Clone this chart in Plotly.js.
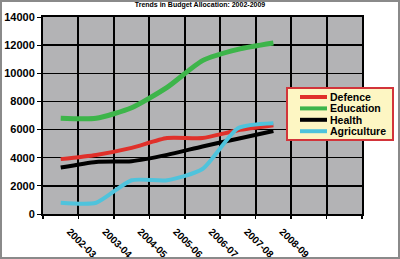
<!DOCTYPE html>
<html>
<head>
<meta charset="utf-8">
<script src="https://cdn.plot.ly/plotly-3.0.1.min.js"></script>
<style>
html,body{margin:0;padding:0;background:#fff;}
#wrap{position:relative;width:400px;height:259px;}
#chart{width:400px;height:259px;}
#frame{position:absolute;left:0;top:0;width:400px;height:259px;box-sizing:border-box;border:2px solid #8a8a8a;pointer-events:none;z-index:10;}
</style>
</head>
<body>
<div id="wrap"><div id="chart"></div><div id="frame"></div></div>
<script>
const years = ["2002-03","2003-04","2004-05","2005-06","2006-07","2007-08","2008-09"];
const defence = [3900, 4200, 4700, 5400, 5400, 5950, 6300];
const education = [6800, 6800, 7550, 9000, 10900, 11700, 12150];
const health = [3300, 3700, 3750, 4200, 4800, 5350, 5900];
const agriculture = [800, 800, 2400, 2400, 3200, 6100, 6450];
const yTicks = [0, 2000, 4000, 6000, 8000, 10000, 12000, 14000];
const yTickText = ["0", "2000", "4000", "6000", "8000", "10000", "12000", "14000"];
const seriesNames = ["Defence", "Education", "Health", "Agriculture"];
const seriesColors = ["#e0302a", "#3db54a", "#000000", "#4fc3dc"];
const seriesWidths = [4, 5, 4, 4];
const seriesValues = [defence, education, health, agriculture];

// layout geometry (pixels)
const W = 400, H = 259, M = {l: 43, r: 38, t: 17, b: 45};
const PW = W - M.l - M.r, PH = H - M.t - M.b;
const px = v => (v - M.l) / PW;
const py = v => (H - M.b - v) / PH;
const LEG = {x0: 287, x1: 393, y0: 88, y1: 140, row0: 97, rowStep: 11.4, sw0: 300, sw1: 327, text: 328};

const idx = years.map((_, i) => i);
const F = {family: 'Liberation Sans, Arial, sans-serif', color: '#000', weight: 'bold'};

const data = seriesNames.map((n, i) => ({
  x: idx, y: seriesValues[i], name: n, type: 'scatter', mode: 'lines',
  line: {color: seriesColors[i], width: seriesWidths[i], shape: 'spline', smoothing: 0.6},
  xaxis: 'x', yaxis: 'y', showlegend: false
}));
data.push({x: [], y: [], xaxis: 'x2', yaxis: 'y', showlegend: false, hoverinfo: 'skip', type: 'scatter'});

const shapes = [{type: 'rect', xref: 'paper', yref: 'paper', x0: px(LEG.x0), x1: px(LEG.x1), y0: py(LEG.y1), y1: py(LEG.y0),
  fillcolor: '#fdf6c3', line: {color: '#d2343a', width: 2}, layer: 'above'}];
const annotations = [];
seriesNames.forEach((n, i) => {
  const ry = LEG.row0 + i * LEG.rowStep;
  shapes.push({type: 'line', xref: 'paper', yref: 'paper', x0: px(LEG.sw0), x1: px(LEG.sw1), y0: py(ry), y1: py(ry),
    line: {color: seriesColors[i], width: 4}, layer: 'above'});
  annotations.push({text: n, xref: 'paper', yref: 'paper', x: px(LEG.text), y: py(ry), xanchor: 'left', yanchor: 'middle',
    showarrow: false, font: Object.assign({}, F, {size: 10.5})});
});

const layout = {
  width: W, height: H,
  margin: M,
  paper_bgcolor: '#ffffff',
  plot_bgcolor: '#b3b3b5',
  title: {text: 'Trends in Budget Allocation: 2002-2009', font: Object.assign({}, F, {size: 7}), x: 0.5, xanchor: 'center', y: 0.99, yanchor: 'top'},
  showlegend: false,
  shapes: shapes,
  annotations: annotations,
  xaxis: {range: [-0.5, 8.5], tickmode: 'array', tickvals: idx, ticktext: years, tickangle: 45,
    ticklabelshift: 9, ticklabelstandoff: 6,
    showgrid: false, zeroline: false, showline: true, linecolor: '#000', linewidth: 2, mirror: true,
    ticks: '', tickfont: Object.assign({}, F, {size: 10})},
  xaxis2: {range: [-0.5, 8.5], overlaying: 'x', side: 'bottom', tick0: 0.5, dtick: 1, showgrid: true,
    gridcolor: '#000', gridwidth: 2, showticklabels: false, ticks: 'outside', ticklen: 4, tickcolor: '#000', tickwidth: 1.5, zeroline: false},
  yaxis: {range: [0, 14000], tickmode: 'array', tickvals: yTicks, ticktext: yTickText, showgrid: true, gridcolor: '#000', gridwidth: 1.5,
    zeroline: false, showline: true, linecolor: '#000', linewidth: 2, mirror: true, ticks: 'outside', ticklen: 4,
    tickcolor: '#000', tickfont: Object.assign({}, F, {size: 11})}
};
Plotly.newPlot('chart', data, layout, {displayModeBar: false, staticPlot: true});
</script>
</body>
</html>
